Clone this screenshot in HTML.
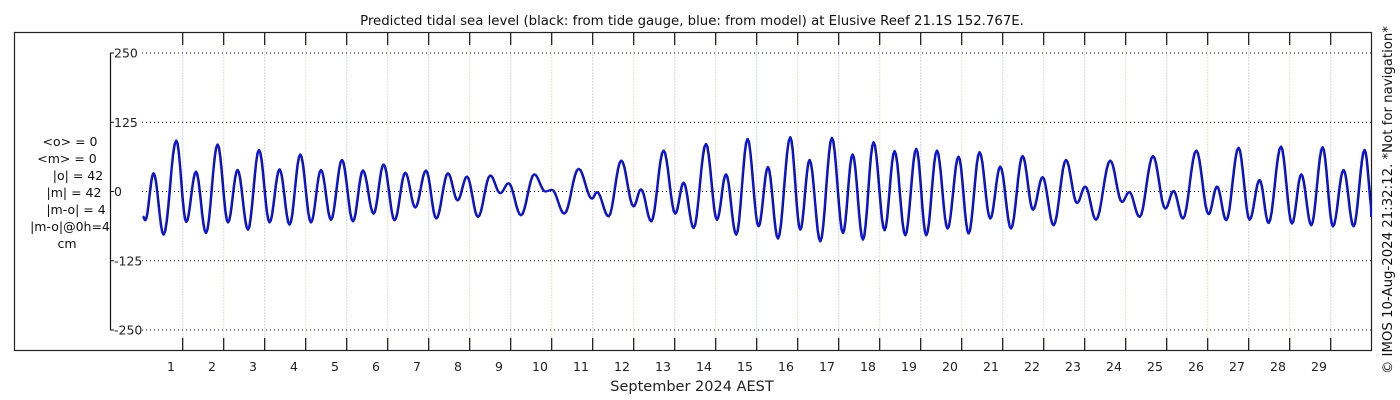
<!DOCTYPE html>
<html><head><meta charset="utf-8"><style>
body{margin:0;background:#fff;}
svg{display:block;font-family:"DejaVu Sans","Liberation Sans",sans-serif;}
</style></head><body>
<svg id="chart" width="1400" height="400" viewBox="0 0 1400 400">
<text x="692" y="25" text-anchor="middle" font-size="13.3" fill="#111">Predicted tidal sea level (black: from tide gauge, blue: from model) at Elusive Reef 21.1S 152.767E.</text>
<rect x="14.5" y="32.5" width="1357" height="318" fill="none" stroke="#222" stroke-width="1.2"/>
<g id="grid"></g>
<g id="axes"></g>
<g id="series"></g>
<g font-size="12.5" fill="#111" text-anchor="middle">
<text x="70" y="146">&lt;o&gt; = 0</text>
<text x="67" y="163">&lt;m&gt; = 0</text>
<text x="78" y="180">|o| = 42</text>
<text x="74" y="197">|m| = 42</text>
<text x="76" y="214">|m-o| = 4</text>
<text x="70" y="231">|m-o|@0h=4</text>
<text x="67" y="248">cm</text>
</g>
<text x="692" y="391" text-anchor="middle" font-size="14.5" fill="#222">September 2024 AEST</text>
<text transform="translate(1392,200) rotate(-90)" text-anchor="middle" font-size="13.3" fill="#111">© IMOS 10-Aug-2024 21:32:12. *Not for navigation*</text>
</svg>
<script>
const yTicks=[250,125,0,-125,-250];
const dayLabels=["1","2","3","4","5","6","7","8","9","10","11","12","13","14","15","16","17","18","19","20","21","22","23","24","25","26","27","28","29"];
const extremeDays=[-0.976,-0.92,-0.717,-0.473,-0.163,0.08,0.317,0.561,0.844,1.098,1.332,1.585,1.854,2.112,2.356,2.6,2.861,3.122,3.366,3.61,3.878,4.146,4.39,4.649,4.893,5.161,5.422,5.666,5.927,6.178,6.463,6.698,6.927,7.195,7.495,7.739,7.941,8.244,8.568,8.837,9.0,9.3,9.649,9.976,10.098,10.38,10.69,10.99,11.171,11.422,11.722,12.007,12.21,12.454,12.756,13.024,13.244,13.495,13.771,14.039,14.268,14.512,14.812,15.056,15.283,15.544,15.829,16.098,16.332,16.585,16.844,17.112,17.356,17.617,17.885,18.129,18.39,18.649,18.917,19.161,19.429,19.69,19.934,20.195,20.478,20.732,20.966,21.234,21.537,21.805,22.007,22.268,22.617,22.902,23.08,23.332,23.659,23.959,24.161,24.39,24.715,25.015,25.22,25.446,25.746,26.015,26.259,26.478,26.78,27.049,27.276,27.52,27.795,28.049,28.307,28.551,28.82,29.03];
const modelValues=[-45,-52,33,-78,92,-55,36,-75,85,-56,39,-69,75,-56,40,-60,67,-56,39,-51,57,-54,38,-40,49,-52,34,-29,38,-49,33,-16,27,-46,29,-3,15,-43,31,0,3,-40,41,-13,-1,-45,56,-27,4,-54,74,-40,16,-66,86,-51,31,-78,95,-63,44,-85,98,-69,57,-90,97,-75,67,-87,89,-70,73,-79,77,-79,74,-67,63,-76,71,-49,45,-67,64,-33,26,-61,57,-21,9,-51,56,-19,-1,-46,64,-31,1,-49,74,-41,9,-52,79,-51,21,-57,81,-58,31,-61,80,-63,39,-63,75,-46];
const gaugeValues=modelValues.map(v=>v);

const NS="http://www.w3.org/2000/svg";
const X0=182.7, DX=41, XL=110, XR=1371;
const xs=d=>X0+d*DX;
const ys=v=>191.5-v*(69.25/125);
function mk(tag,attrs,parent){const e=document.createElementNS(NS,tag);for(const k in attrs)e.setAttribute(k,attrs[k]);parent.appendChild(e);return e;}
const grid=document.getElementById('grid'), axes=document.getElementById('axes'), series=document.getElementById('series');
for(let k=0;k<dayLabels.length;k++){
  const x=xs(k);
  const gl=mk('line',{x1:x,x2:x,y1:33,y2:350,stroke:k%2?'#f3dcc4':'#d4d4f4','stroke-width':1,'stroke-dasharray':'2,1'},grid);
  
  
  const t1=mk('line',{x1:x,x2:x,y1:33,y2:45,stroke:'#111','stroke-width':1.2},axes);
  
  
  const t2=mk('line',{x1:x,x2:x,y1:338,y2:350,stroke:'#111','stroke-width':1.2},axes);
  
  
  const lb=mk('text',{x:x-11.7,y:371,'text-anchor':'middle','font-size':12.5,fill:'#222'},axes);
  lb.textContent=dayLabels[k];
  
  
}
const ya=mk('line',{x1:110.5,x2:110.5,y1:ys(yTicks[0]),y2:ys(yTicks[yTicks.length-1]),stroke:'#111','stroke-width':1.2},axes);


yTicks.forEach(v=>{
  const y=ys(v);
  const g=mk('line',{x1:142,x2:XR,y1:y,y2:y,stroke:'#111','stroke-width':1,'stroke-dasharray':'1,3'},grid);
  
  
  const tk=mk('line',{x1:110,x2:114,y1:y,y2:y,stroke:'#111','stroke-width':1},axes);
  
  
  const t=mk('text',{x:114,y:y+4.5,'font-size':12.5,fill:'#222'},axes);
  t.textContent=String(v);
  
  
});
function curve(days,vals,shift){
  let d='';
  for(let i=0;i<days.length-1;i++){
    const a=days[i]+shift,b=days[i+1]+shift,va=vals[i],vb=vals[i+1];
    const n=8;
    for(let j=(i===0?0:1);j<=n;j++){
      const f=j/n, t=a+(b-a)*f, v=va+(vb-va)*(1-Math.cos(Math.PI*f))/2;
      let x=xs(t); if(x>XR) x=XR;
      d+=(d?'L':'M')+x.toFixed(1)+','+ys(v).toFixed(1);
    }
  }
  return d;
}
const pg=mk('path',{d:curve(extremeDays,gaugeValues,0.012),fill:'none',stroke:'#000','stroke-width':2,'stroke-linejoin':'round'},series);


const pm=mk('path',{d:curve(extremeDays,modelValues,0),fill:'none',stroke:'#0a14f0','stroke-width':2,'stroke-linejoin':'round'},series);


</script>
</body></html>
